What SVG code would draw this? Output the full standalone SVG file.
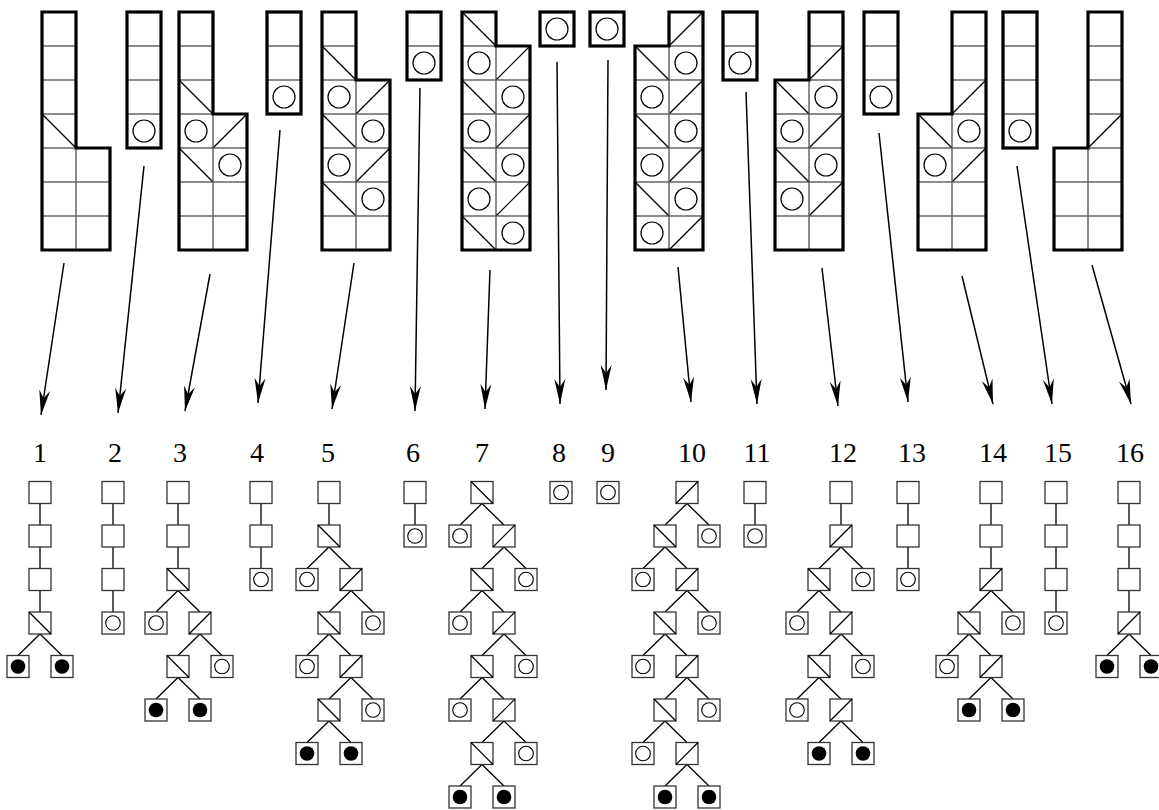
<svg xmlns="http://www.w3.org/2000/svg" xmlns:xlink="http://www.w3.org/1999/xlink" width="1159" height="810" viewBox="0 0 1159 810">
<style>
.grid{fill:none;stroke:#666;stroke-width:1}
.dg{stroke:#000;stroke-width:1.2}
.ci{fill:none;stroke:#000;stroke-width:1.2}
.out{fill:none;stroke:#000;stroke-width:3.2;stroke-linejoin:miter}
.arr{stroke:#000;stroke-width:1.5;fill:none}
.tn{fill:#fff;stroke:#333;stroke-width:1.3}
.tl{stroke:#000;stroke-width:1.3;fill:none}
.tc{fill:none;stroke:#000;stroke-width:1.1}
.tf{fill:#000}
.lbl{font-family:"Liberation Serif","Times New Roman",serif;font-size:28px;fill:#000;text-anchor:middle}
</style>
<defs>
<marker id="ah" markerUnits="userSpaceOnUse" viewBox="-26 -7 27 14" refX="0" refY="0" markerWidth="27" markerHeight="14" orient="auto">
<path d="M0,0 L-25,-5.5 L-17,0 L-25,5.5 Z" fill="#000"/>
</marker>
<g id="c0"><rect class="grid" width="34" height="34"/></g>
<g id="cb"><rect class="grid" width="34" height="34"/><line class="dg" x1="0" y1="0" x2="34" y2="34"/></g>
<g id="cf"><rect class="grid" width="34" height="34"/><line class="dg" x1="0" y1="34" x2="34" y2="0"/></g>
<g id="cc"><rect class="grid" width="34" height="34"/><circle class="ci" cx="17" cy="17" r="11"/></g>
<g id="tn"><rect class="tn" x="-11" y="-11" width="22" height="22"/></g>
<g id="tb"><rect class="tn" x="-11" y="-11" width="22" height="22"/><line class="dg" x1="-11" y1="-11" x2="11" y2="11"/></g>
<g id="tf"><rect class="tn" x="-11" y="-11" width="22" height="22"/><line class="dg" x1="-11" y1="11" x2="11" y2="-11"/></g>
<g id="tc"><rect class="tn" x="-11" y="-11" width="22" height="22"/><circle class="tc" r="7.3"/></g>
<g id="tF"><rect class="tn" x="-11" y="-11" width="22" height="22"/><circle class="tf" r="7.3"/></g>
</defs>
<rect width="1159" height="810" fill="#fff"/>

<g id="shape1">
<use href="#c0" x="42" y="12"/><use href="#c0" x="42" y="46"/><use href="#c0" x="42" y="80"/><use href="#cb" x="42" y="114"/><use href="#c0" x="42" y="148"/><use href="#c0" x="42" y="182"/><use href="#c0" x="42" y="216"/>
<use href="#c0" x="76" y="148"/><use href="#c0" x="76" y="182"/><use href="#c0" x="76" y="216"/>
<path class="out" d="M42,12 H76 V148 H110 V250 H42 Z"/>
</g>
<g id="shape2">
<use href="#c0" x="127" y="12"/><use href="#c0" x="127" y="46"/><use href="#c0" x="127" y="80"/><use href="#cc" x="127" y="114"/>
<rect class="out" x="127" y="12" width="34" height="136"/>
</g>
<g id="shape3">
<use href="#c0" x="179" y="12"/><use href="#c0" x="179" y="46"/><use href="#cb" x="179" y="80"/><use href="#cc" x="179" y="114"/><use href="#cb" x="179" y="148"/><use href="#c0" x="179" y="182"/><use href="#c0" x="179" y="216"/>
<use href="#cf" x="213" y="114"/><use href="#cc" x="213" y="148"/><use href="#c0" x="213" y="182"/><use href="#c0" x="213" y="216"/>
<path class="out" d="M179,12 H213 V114 H247 V250 H179 Z"/>
</g>
<g id="shape4">
<use href="#c0" x="267" y="12"/><use href="#c0" x="267" y="46"/><use href="#cc" x="267" y="80"/>
<rect class="out" x="267" y="12" width="34" height="102"/>
</g>
<g id="shape5">
<use href="#c0" x="322" y="12"/><use href="#cb" x="322" y="46"/><use href="#cc" x="322" y="80"/><use href="#cb" x="322" y="114"/><use href="#cc" x="322" y="148"/><use href="#cb" x="322" y="182"/><use href="#c0" x="322" y="216"/>
<use href="#cf" x="356" y="80"/><use href="#cc" x="356" y="114"/><use href="#cf" x="356" y="148"/><use href="#cc" x="356" y="182"/><use href="#c0" x="356" y="216"/>
<path class="out" d="M322,12 H356 V80 H390 V250 H322 Z"/>
</g>
<g id="shape6">
<use href="#c0" x="407" y="12"/><use href="#cc" x="407" y="46"/>
<rect class="out" x="407" y="12" width="34" height="68"/>
</g>
<g id="shape7">
<use href="#cb" x="462" y="12"/><use href="#cc" x="462" y="46"/><use href="#cb" x="462" y="80"/><use href="#cc" x="462" y="114"/><use href="#cb" x="462" y="148"/><use href="#cc" x="462" y="182"/><use href="#cb" x="462" y="216"/>
<use href="#cf" x="496" y="46"/><use href="#cc" x="496" y="80"/><use href="#cf" x="496" y="114"/><use href="#cc" x="496" y="148"/><use href="#cf" x="496" y="182"/><use href="#cc" x="496" y="216"/>
<path class="out" d="M462,12 H496 V46 H530 V250 H462 Z"/>
</g>
<g id="shape8">
<use href="#cc" x="540" y="12"/>
<rect class="out" x="540" y="12" width="34" height="34"/>
</g>
<g id="shape9">
<use href="#cc" x="590" y="12"/>
<rect class="out" x="590" y="12" width="34" height="34"/>
</g>
<g id="shape10">
<use href="#cf" x="669" y="12"/><use href="#cc" x="669" y="46"/><use href="#cf" x="669" y="80"/><use href="#cc" x="669" y="114"/><use href="#cf" x="669" y="148"/><use href="#cc" x="669" y="182"/><use href="#cf" x="669" y="216"/>
<use href="#cb" x="635" y="46"/><use href="#cc" x="635" y="80"/><use href="#cb" x="635" y="114"/><use href="#cc" x="635" y="148"/><use href="#cb" x="635" y="182"/><use href="#cc" x="635" y="216"/>
<path class="out" d="M669,12 H703 V250 H635 V46 H669 Z"/>
</g>
<g id="shape11">
<use href="#c0" x="723" y="12"/><use href="#cc" x="723" y="46"/>
<rect class="out" x="723" y="12" width="34" height="68"/>
</g>
<g id="shape12">
<use href="#c0" x="809" y="12"/><use href="#cf" x="809" y="46"/><use href="#cc" x="809" y="80"/><use href="#cf" x="809" y="114"/><use href="#cc" x="809" y="148"/><use href="#cf" x="809" y="182"/><use href="#c0" x="809" y="216"/>
<use href="#cb" x="775" y="80"/><use href="#cc" x="775" y="114"/><use href="#cb" x="775" y="148"/><use href="#cc" x="775" y="182"/><use href="#c0" x="775" y="216"/>
<path class="out" d="M809,12 H843 V250 H775 V80 H809 Z"/>
</g>
<g id="shape13">
<use href="#c0" x="864" y="12"/><use href="#c0" x="864" y="46"/><use href="#cc" x="864" y="80"/>
<rect class="out" x="864" y="12" width="34" height="102"/>
</g>
<g id="shape14">
<use href="#c0" x="952" y="12"/><use href="#c0" x="952" y="46"/><use href="#cf" x="952" y="80"/><use href="#cc" x="952" y="114"/><use href="#cf" x="952" y="148"/><use href="#c0" x="952" y="182"/><use href="#c0" x="952" y="216"/>
<use href="#cb" x="918" y="114"/><use href="#cc" x="918" y="148"/><use href="#c0" x="918" y="182"/><use href="#c0" x="918" y="216"/>
<path class="out" d="M952,12 H986 V250 H918 V114 H952 Z"/>
</g>
<g id="shape15">
<use href="#c0" x="1003" y="12"/><use href="#c0" x="1003" y="46"/><use href="#c0" x="1003" y="80"/><use href="#cc" x="1003" y="114"/>
<rect class="out" x="1003" y="12" width="34" height="136"/>
</g>
<g id="shape16">
<use href="#c0" x="1088" y="12"/><use href="#c0" x="1088" y="46"/><use href="#c0" x="1088" y="80"/><use href="#cf" x="1088" y="114"/><use href="#c0" x="1088" y="148"/><use href="#c0" x="1088" y="182"/><use href="#c0" x="1088" y="216"/>
<use href="#c0" x="1054" y="148"/><use href="#c0" x="1054" y="182"/><use href="#c0" x="1054" y="216"/>
<path class="out" d="M1088,12 H1122 V250 H1054 V148 H1088 Z"/>
</g>

<g id="connectors">
<line class="arr" marker-end="url(#ah)" x1="64" y1="263" x2="41" y2="415"/>
<line class="arr" marker-end="url(#ah)" x1="144" y1="166" x2="118" y2="413"/>
<line class="arr" marker-end="url(#ah)" x1="210" y1="274" x2="185" y2="411"/>
<line class="arr" marker-end="url(#ah)" x1="280" y1="130" x2="258" y2="403"/>
<line class="arr" marker-end="url(#ah)" x1="354" y1="263" x2="332" y2="409"/>
<line class="arr" marker-end="url(#ah)" x1="420" y1="88" x2="415" y2="411"/>
<line class="arr" marker-end="url(#ah)" x1="490" y1="270" x2="485" y2="409"/>
<line class="arr" marker-end="url(#ah)" x1="557" y1="62" x2="560" y2="404"/>
<line class="arr" marker-end="url(#ah)" x1="608" y1="60" x2="606" y2="390"/>
<line class="arr" marker-end="url(#ah)" x1="678" y1="267" x2="691" y2="402"/>
<line class="arr" marker-end="url(#ah)" x1="746" y1="92" x2="757" y2="404"/>
<line class="arr" marker-end="url(#ah)" x1="822" y1="268" x2="838" y2="406"/>
<line class="arr" marker-end="url(#ah)" x1="879" y1="133" x2="908" y2="402"/>
<line class="arr" marker-end="url(#ah)" x1="962" y1="276" x2="993" y2="404"/>
<line class="arr" marker-end="url(#ah)" x1="1017" y1="166" x2="1052" y2="404"/>
<line class="arr" marker-end="url(#ah)" x1="1092" y1="265" x2="1131" y2="404"/>
</g>

<g id="labels">
<text class="lbl" x="40" y="462">1</text>
<text class="lbl" x="115" y="462">2</text>
<text class="lbl" x="180" y="462">3</text>
<text class="lbl" x="257" y="462">4</text>
<text class="lbl" x="328" y="462">5</text>
<text class="lbl" x="413" y="462">6</text>
<text class="lbl" x="482" y="462">7</text>
<text class="lbl" x="559" y="462">8</text>
<text class="lbl" x="608" y="462">9</text>
<text class="lbl" x="692" y="462">10</text>
<text class="lbl" x="757" y="462">11</text>
<text class="lbl" x="843" y="462">12</text>
<text class="lbl" x="912" y="462">13</text>
<text class="lbl" x="993" y="462">14</text>
<text class="lbl" x="1058" y="462">15</text>
<text class="lbl" x="1130" y="462">16</text>
</g>

<g id="tree-edges">
<path class="tl" d="M40,503.5V525 M40,547V568.5 M40,590.5V612 M40,634L18,655.5 M40,634L62,655.5"/>
<path class="tl" d="M113,503.5V525 M113,547V568.5 M113,590.5V612"/>
<path class="tl" d="M178,503.5V525 M178,547V568.5 M178,590.5L156,612 M178,590.5L200,612 M200,634L178,655.5 M200,634L222,655.5 M178,677.5L156,699 M178,677.5L200,699"/>
<path class="tl" d="M261,503.5V525 M261,547V568.5"/>
<path class="tl" d="M329,503.5V525 M329,547L307,568.5 M329,547L351,568.5 M351,590.5L329,612 M351,590.5L373,612 M329,634L307,655.5 M329,634L351,655.5 M351,677.5L329,699 M351,677.5L373,699 M329,721L307,742.5 M329,721L351,742.5"/>
<path class="tl" d="M415,503.5V525"/>
<path class="tl" d="M482,503.5L460,525 M482,503.5L504,525 M504,547L482,568.5 M504,547L526,568.5 M482,590.5L460,612 M482,590.5L504,612 M504,634L482,655.5 M504,634L526,655.5 M482,677.5L460,699 M482,677.5L504,699 M504,721L482,742.5 M504,721L526,742.5 M482,764.5L460,786 M482,764.5L504,786"/>
<path class="tl" d="M687,503.5L665,525 M687,503.5L709,525 M665,547L643,568.5 M665,547L687,568.5 M687,590.5L665,612 M687,590.5L709,612 M665,634L643,655.5 M665,634L687,655.5 M687,677.5L665,699 M687,677.5L709,699 M665,721L643,742.5 M665,721L687,742.5 M687,764.5L665,786 M687,764.5L709,786"/>
<path class="tl" d="M755,503.5V525"/>
<path class="tl" d="M841,503.5V525 M841,547L819,568.5 M841,547L863,568.5 M819,590.5L797,612 M819,590.5L841,612 M841,634L819,655.5 M841,634L863,655.5 M819,677.5L797,699 M819,677.5L841,699 M841,721L819,742.5 M841,721L863,742.5"/>
<path class="tl" d="M908,503.5V525 M908,547V568.5"/>
<path class="tl" d="M991,503.5V525 M991,547V568.5 M991,590.5L969,612 M991,590.5L1013,612 M969,634L947,655.5 M969,634L991,655.5 M991,677.5L969,699 M991,677.5L1013,699"/>
<path class="tl" d="M1056,503.5V525 M1056,547V568.5 M1056,590.5V612"/>
<path class="tl" d="M1129,503.5V525 M1129,547V568.5 M1129,590.5V612 M1129,634L1107,655.5 M1129,634L1151,655.5"/>
</g>

<g id="tree1"><use href="#tn" x="40" y="492.5"/><use href="#tn" x="40" y="536"/><use href="#tn" x="40" y="579.5"/><use href="#tb" x="40" y="623"/><use href="#tF" x="18" y="666.5"/><use href="#tF" x="62" y="666.5"/></g>
<g id="tree2"><use href="#tn" x="113" y="492.5"/><use href="#tn" x="113" y="536"/><use href="#tn" x="113" y="579.5"/><use href="#tc" x="113" y="623"/></g>
<g id="tree3"><use href="#tn" x="178" y="492.5"/><use href="#tn" x="178" y="536"/><use href="#tb" x="178" y="579.5"/><use href="#tc" x="156" y="623"/><use href="#tf" x="200" y="623"/><use href="#tb" x="178" y="666.5"/><use href="#tc" x="222" y="666.5"/><use href="#tF" x="156" y="710"/><use href="#tF" x="200" y="710"/></g>
<g id="tree4"><use href="#tn" x="261" y="492.5"/><use href="#tn" x="261" y="536"/><use href="#tc" x="261" y="579.5"/></g>
<g id="tree5"><use href="#tn" x="329" y="492.5"/><use href="#tb" x="329" y="536"/><use href="#tc" x="307" y="579.5"/><use href="#tf" x="351" y="579.5"/><use href="#tb" x="329" y="623"/><use href="#tc" x="373" y="623"/><use href="#tc" x="307" y="666.5"/><use href="#tf" x="351" y="666.5"/><use href="#tb" x="329" y="710"/><use href="#tc" x="373" y="710"/><use href="#tF" x="307" y="753.5"/><use href="#tF" x="351" y="753.5"/></g>
<g id="tree6"><use href="#tn" x="415" y="492.5"/><use href="#tc" x="415" y="536"/></g>
<g id="tree7"><use href="#tb" x="482" y="492.5"/><use href="#tc" x="460" y="536"/><use href="#tf" x="504" y="536"/><use href="#tb" x="482" y="579.5"/><use href="#tc" x="526" y="579.5"/><use href="#tc" x="460" y="623"/><use href="#tf" x="504" y="623"/><use href="#tb" x="482" y="666.5"/><use href="#tc" x="526" y="666.5"/><use href="#tc" x="460" y="710"/><use href="#tf" x="504" y="710"/><use href="#tb" x="482" y="753.5"/><use href="#tc" x="526" y="753.5"/><use href="#tF" x="460" y="797"/><use href="#tF" x="504" y="797"/></g>
<g id="tree8"><use href="#tc" x="561" y="492.5"/></g>
<g id="tree9"><use href="#tc" x="608" y="492.5"/></g>
<g id="tree10"><use href="#tf" x="687" y="492.5"/><use href="#tb" x="665" y="536"/><use href="#tc" x="709" y="536"/><use href="#tc" x="643" y="579.5"/><use href="#tf" x="687" y="579.5"/><use href="#tb" x="665" y="623"/><use href="#tc" x="709" y="623"/><use href="#tc" x="643" y="666.5"/><use href="#tf" x="687" y="666.5"/><use href="#tb" x="665" y="710"/><use href="#tc" x="709" y="710"/><use href="#tc" x="643" y="753.5"/><use href="#tf" x="687" y="753.5"/><use href="#tF" x="665" y="797"/><use href="#tF" x="709" y="797"/></g>
<g id="tree11"><use href="#tn" x="755" y="492.5"/><use href="#tc" x="755" y="536"/></g>
<g id="tree12"><use href="#tn" x="841" y="492.5"/><use href="#tf" x="841" y="536"/><use href="#tb" x="819" y="579.5"/><use href="#tc" x="863" y="579.5"/><use href="#tc" x="797" y="623"/><use href="#tf" x="841" y="623"/><use href="#tb" x="819" y="666.5"/><use href="#tc" x="863" y="666.5"/><use href="#tc" x="797" y="710"/><use href="#tf" x="841" y="710"/><use href="#tF" x="819" y="753.5"/><use href="#tF" x="863" y="753.5"/></g>
<g id="tree13"><use href="#tn" x="908" y="492.5"/><use href="#tn" x="908" y="536"/><use href="#tc" x="908" y="579.5"/></g>
<g id="tree14"><use href="#tn" x="991" y="492.5"/><use href="#tn" x="991" y="536"/><use href="#tf" x="991" y="579.5"/><use href="#tb" x="969" y="623"/><use href="#tc" x="1013" y="623"/><use href="#tc" x="947" y="666.5"/><use href="#tf" x="991" y="666.5"/><use href="#tF" x="969" y="710"/><use href="#tF" x="1013" y="710"/></g>
<g id="tree15"><use href="#tn" x="1056" y="492.5"/><use href="#tn" x="1056" y="536"/><use href="#tn" x="1056" y="579.5"/><use href="#tc" x="1056" y="623"/></g>
<g id="tree16"><use href="#tn" x="1129" y="492.5"/><use href="#tn" x="1129" y="536"/><use href="#tn" x="1129" y="579.5"/><use href="#tf" x="1129" y="623"/><use href="#tF" x="1107" y="666.5"/><use href="#tF" x="1151" y="666.5"/></g>
</svg>
